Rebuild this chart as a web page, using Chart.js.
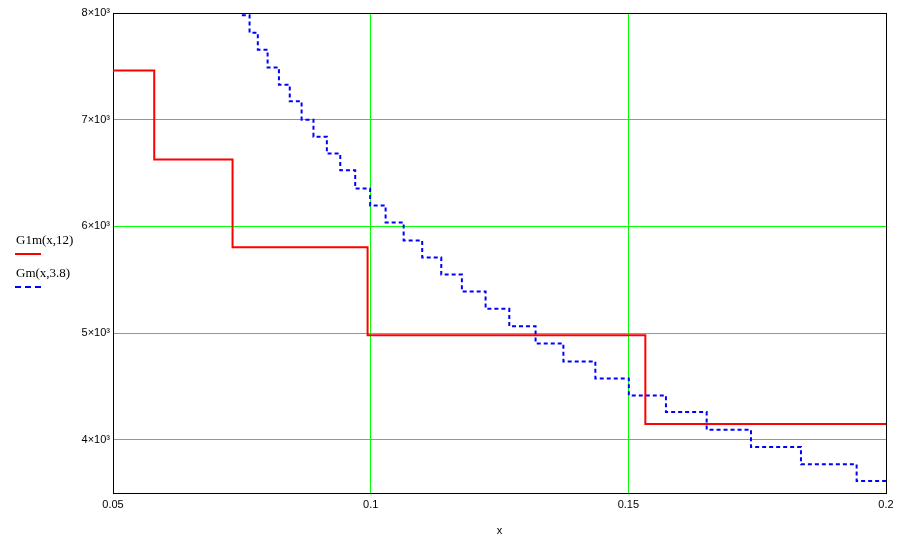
<!DOCTYPE html>
<html>
<head>
<meta charset="utf-8">
<script src="https://cdn.jsdelivr.net/npm/chart.js@4/dist/chart.umd.min.js"></script>
<style>
    html, body { margin: 0; padding: 0; background: #fff; }
    #wrap { position: relative; width: 906px; height: 538px; }
    .leg-text { position: absolute; left: 16px; font: 13px "Liberation Serif", "Times New Roman", serif; color: #000; line-height: 13px; }
    .leg-line { position: absolute; left: 15px; width: 26px; height: 0; }
</style>
</head>
<body>
<div id="wrap">
    <canvas id="chart" width="906" height="538"></canvas>
    <div class="leg-text" style="top:233px;">G1m(x,12)</div>
    <div class="leg-line" style="top:253px; border-top: 2px solid #ff0000;"></div>
    <div class="leg-text" style="top:266px;">Gm(x,3.8)</div>
    <div class="leg-line" style="top:286px; border-top: 2px dashed #0000ff;"></div>
</div>
<script>
// G1m(x,12) - step levels
const redX = [0.05, 0.058, 0.0732, 0.0994, 0.1533, 0.2];
const redY = [7460, 6626, 5804, 4980, 4146, 4146];

// Gm(x,3.8) - finer steps
const blueX = [0.075, 0.0765, 0.0781, 0.0800, 0.0822, 0.0843, 0.0866, 0.0889, 0.0915, 0.0941,
    0.0970, 0.0999, 0.1029, 0.1064, 0.1100, 0.1137, 0.1177, 0.1223, 0.1269, 0.1320,
    0.1374, 0.1436, 0.1501, 0.1573, 0.1652, 0.1738, 0.1835, 0.1943, 0.2];
const blueY = [7978, 7815, 7656, 7488, 7328, 7172, 7000, 6841, 6682, 6526,
    6354, 6195, 6036, 5867, 5708, 5548, 5389, 5227, 5064, 4902,
    4733, 4574, 4415, 4259, 4094, 3931, 3769, 3612, 3612];

const xTicks = [0.05, 0.1, 0.15, 0.2];
const yTicks = [4000, 5000, 6000, 7000, 8000];
const yTickLabels = ['4×10³', '5×10³', '6×10³', '7×10³', '8×10³'];

function toPoints(xs, ys) {
    return xs.map((x, i) => ({ x: x, y: ys[i] }));
}

// grid lines on the plot edges are part of the black frame
function gridColor(ctx, edges) {
    if (ctx.tick && edges.includes(ctx.tick.value)) return '#000000';
    return '#00ff00';
}

const tickFont = { family: '"Liberation Sans", Arial, sans-serif', size: 11 };

new Chart(document.getElementById('chart').getContext('2d'), {
    type: 'line',
    data: {
        datasets: [
            {
                label: 'G1m(x,12)',
                data: toPoints(redX, redY),
                borderColor: '#ff0000',
                borderWidth: 2,
                stepped: true,
                pointRadius: 0,
                fill: false
            },
            {
                label: 'Gm(x,3.8)',
                data: toPoints(blueX, blueY),
                borderColor: '#0000ff',
                borderWidth: 2,
                borderDash: [4, 3],
                stepped: true,
                pointRadius: 0,
                fill: false
            }
        ]
    },
    options: {
        responsive: false,
        animation: false,
        layout: { padding: { top: 13, right: 20, left: 0, bottom: 0 } },
        plugins: {
            legend: { display: false },
            tooltip: { enabled: false }
        },
        scales: {
            x: {
                type: 'linear',
                min: 0.05,
                max: 0.2,
                afterBuildTicks: s => { s.ticks = xTicks.map(v => ({ value: v })); },
                afterFit: s => { s.height = 45; },
                grid: { color: c => gridColor(c, [0.05, 0.2]), lineWidth: 1, drawTicks: false },
                border: { display: true, color: '#000', width: 1 },
                ticks: {
                    color: '#000',
                    font: tickFont,
                    padding: 5,
                    maxRotation: 0,
                    callback: v => String(v)
                },
                title: {
                    display: true,
                    text: 'x',
                    color: '#000',
                    font: tickFont,
                    padding: { top: 6, bottom: 0 }
                }
            },
            y: {
                type: 'linear',
                min: 3500,
                max: 8000,
                afterBuildTicks: s => { s.ticks = yTicks.map(v => ({ value: v })); },
                afterFit: s => { s.width = 113; },
                grid: { color: c => gridColor(c, [8000]), lineWidth: 1, drawTicks: false },
                border: { display: true, color: '#000', width: 1 },
                ticks: {
                    color: '#000',
                    font: tickFont,
                    padding: 3,
                    callback: v => yTickLabels[yTicks.indexOf(v)]
                }
            }
        }
    }
});
</script>
</body>
</html>
